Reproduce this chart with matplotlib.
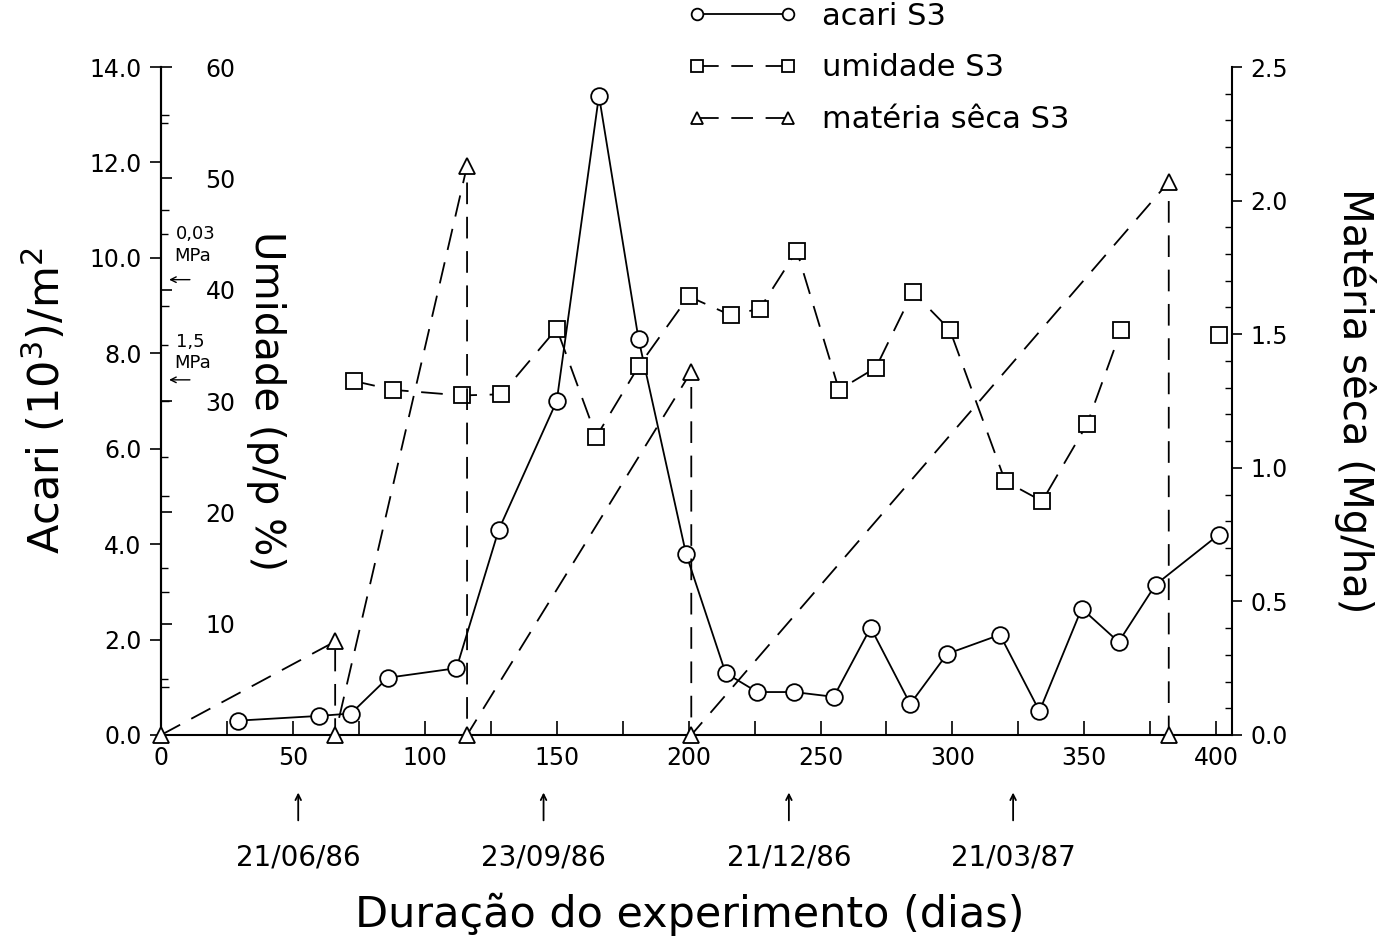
import numpy as np
import matplotlib
matplotlib.use("Agg")
import matplotlib.pyplot as plt
from matplotlib.ticker import MultipleLocator, FormatStrFormatter, FixedLocator

# acari S3 (10^3 / m2)
acari_dias = [29, 60, 72, 86, 112, 128, 150, 166, 181, 199, 214, 226, 240,
              255, 269, 284, 298, 318, 333, 349, 363, 377, 401]
acari_val = [0.30, 0.40, 0.45, 1.20, 1.40, 4.30, 7.00, 13.40, 8.30, 3.80,
             1.30, 0.90, 0.90, 0.80, 2.25, 0.65, 1.70, 2.10, 0.50, 2.65,
             1.95, 3.15, 4.20]

# umidade S3 (p/p %)
umid_dias = [73, 88, 114, 129, 150, 165, 181, 200, 216, 227, 241, 257, 271,
             285, 299, 320, 334, 351, 364, 401]
umid_val = [31.8, 31.0, 30.5, 30.6, 36.5, 26.8, 33.1, 39.4, 37.7, 38.3, 43.5,
            31.0, 33.0, 39.8, 36.4, 22.8, 21.0, 27.9, 36.4, 35.9]

# materia seca S3 (Mg/ha)
ms_dias = [0, 66, 66, 116, 116, 201, 201, 382, 382]
ms_val = [0.0, 0.35, 0.0, 2.13, 0.0, 1.36, 0.0, 2.07, 0.0]

# datas marcadas no eixo x
datas_dias = [52, 145, 238, 323]
datas_txt = ["21/06/86", "23/09/86", "21/12/86", "21/03/87"]

fig = plt.figure(figsize=(13.8, 9.48), dpi=100)
ax = fig.add_axes([0.1167, 0.2247, 0.7761, 0.7046])

#eixo acari
ax.set_xlim(0, 406)
ax.set_ylim(0, 14)
ax.spines["top"].set_visible(False)
ax.spines["right"].set_visible(False)
ax.xaxis.set_major_locator(MultipleLocator(50))
ax.xaxis.set_minor_locator(MultipleLocator(25))
ax.yaxis.set_major_locator(MultipleLocator(2))
ax.yaxis.set_minor_locator(MultipleLocator(1))
ax.yaxis.set_major_formatter(FormatStrFormatter("%.1f"))
ax.tick_params(axis="x", which="both", direction="in", length=10, width=1.2,
               labelsize=17, pad=8)
ax.tick_params(axis="y", which="major", direction="out", length=8, width=1.2,
               labelsize=17, pad=6)
ax.tick_params(axis="y", which="minor", direction="in", length=6, width=1.0)
for s in ax.spines.values():
    s.set_linewidth(1.5)

la, = ax.plot(acari_dias, acari_val, color="black", lw=1.3, marker="o", ms=12,
              mfc="white", mec="black", mew=1.3, label="acari S3", zorder=3)

#eixo umidade (no lado esquerdo, por dentro)
ax_u = ax.twinx()
ax_u.set_ylim(0, 60)
ax_u.spines["right"].set_position(("axes", 0))
for k in ["left", "top", "bottom"]:
    ax_u.spines[k].set_visible(False)
ax_u.spines["right"].set_linewidth(1.5)
ax_u.yaxis.set_major_locator(FixedLocator([10, 20, 30, 40, 50, 60]))
ax_u.yaxis.set_minor_locator(FixedLocator([5, 15, 25, 35, 45, 55]))
ax_u.tick_params(axis="y", which="major", direction="out", length=8, width=1.2,
                 labelsize=17, pad=24)
ax_u.tick_params(axis="y", which="minor", direction="out", length=5, width=1.0)

lu, = ax_u.plot(umid_dias[:-1], umid_val[:-1], color="black", lw=1.3,
                dashes=(12, 7), marker="s", ms=12, mfc="white", mec="black",
                mew=1.3, label="umidade S3")
ax_u.plot(umid_dias[-1:], umid_val[-1:], ls="none", marker="s", ms=12,
          mfc="white", mec="black", mew=1.3)

ax_u.text(5.5, 45.0, "0,03", fontsize=13, ha="left", va="center")
ax_u.text(5.0, 43.0, "MPa", fontsize=13, ha="left", va="center")
ax_u.annotate("", xy=(2, 40.9), xytext=(12, 40.9),
              arrowprops=dict(arrowstyle="->", lw=1.0, color="black"))
ax_u.text(5.5, 35.3, "1,5", fontsize=13, ha="left", va="center")
ax_u.text(5.0, 33.4, "MPa", fontsize=13, ha="left", va="center")
ax_u.annotate("", xy=(2, 31.9), xytext=(12, 31.9),
              arrowprops=dict(arrowstyle="->", lw=1.0, color="black"))

#eixo materia seca
ax_m = ax.twinx()
ax_m.set_ylim(0, 2.5)
for k in ["left", "top", "bottom"]:
    ax_m.spines[k].set_visible(False)
ax_m.spines["right"].set_linewidth(1.5)
ax_m.yaxis.set_major_locator(MultipleLocator(0.5))
ax_m.yaxis.set_minor_locator(MultipleLocator(0.1))
ax_m.yaxis.set_major_formatter(FormatStrFormatter("%.1f"))
ax_m.tick_params(axis="y", which="major", direction="out", length=7, width=1.2,
                 labelsize=17, pad=6)
ax_m.tick_params(axis="y", which="minor", direction="in", length=5, width=1.0)

lm, = ax_m.plot(ms_dias, ms_val, color="black", lw=1.3, dashes=(12, 7),
                marker="^", ms=12, mfc="white", mec="black", mew=1.3,
                label="matéria sêca S3", clip_on=False)

# datas com setas
for d, t in zip(datas_dias, datas_txt):
    ax.annotate("", xy=(d, -0.082), xytext=(d, -0.132),
                xycoords=("data", "axes fraction"),
                textcoords=("data", "axes fraction"),
                arrowprops=dict(arrowstyle="->", lw=1.3, color="black"),
                annotation_clip=False)
    ax.text(d, -0.184, t, transform=ax.get_xaxis_transform(), ha="center",
            va="center", fontsize=20)

# titulos dos eixos
fig.text(0.5, 0.035, "Duração do experimento (dias)", ha="center",
         va="center", fontsize=31)
fig.text(0.033, 0.577, "Acari (10$^3$)/m$^2$", ha="center", va="center",
         rotation=90, fontsize=31)
fig.text(0.193, 0.577, "Umidade (p/p %)", ha="center", va="center",
         rotation=270, fontsize=29)
fig.text(0.982, 0.577, "Matéria sêca (Mg/ha)", ha="center", va="center",
         rotation=270, fontsize=29)

fig.legend([la, lu, lm], ["acari S3", "umidade S3", "matéria sêca S3"],
           loc="upper left", bbox_to_anchor=(0.497, 1.0), frameon=False,
           fontsize=22, handlelength=3.6, numpoints=2, markerscale=0.7,
           labelspacing=0.75, handletextpad=0.8, borderaxespad=0, borderpad=0.05)

fig.savefig("out.png", dpi=100)
